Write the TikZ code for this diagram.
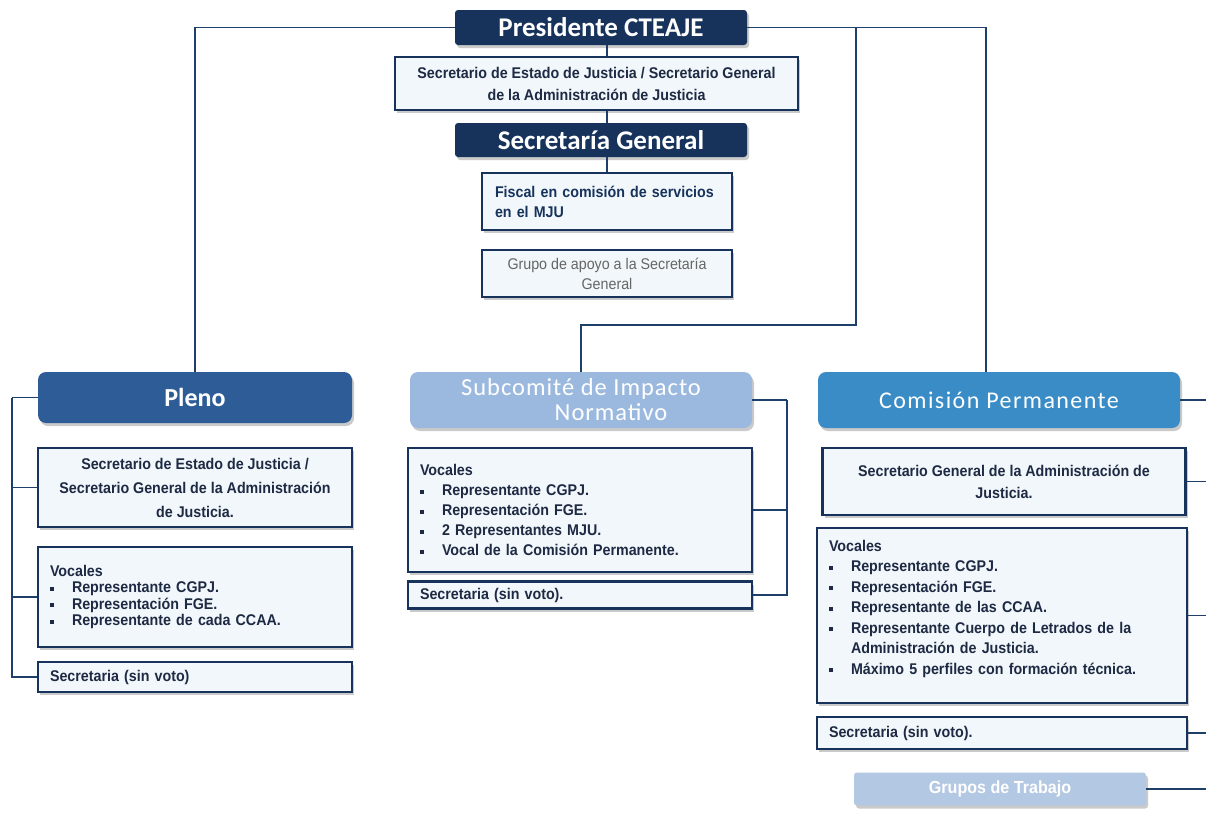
\documentclass[tikz,border=0pt]{standalone}
\usepackage{fontspec}
\usepackage{xcolor}
\usepackage{tikz}
\usetikzlibrary{calc, shadows}
\setmainfont[FakeStretch=0.92]{Liberation Sans}
\newfontfamily\headfont{Carlito}

\definecolor{navy}{HTML}{17335C}
\definecolor{linkcol}{HTML}{1F3F6B}
\definecolor{plenocol}{HTML}{2E5C97}
\definecolor{subccol}{HTML}{9BB9DF}
\definecolor{comiscol}{HTML}{3A8CC6}
\definecolor{grupocol}{HTML}{B3C8E2}
\definecolor{boxfill}{HTML}{F1F7FA}
\definecolor{textcol}{HTML}{1E2A44}

\newcommand\itm[1]{\par\noindent\makebox[22pt][l]{\rule[2pt]{3.8pt}{3.8pt}}#1}

\tikzset{
	link/.style={draw=linkcol, line width=1.8pt},
	boxshadow/.style={drop shadow={shadow xshift=2pt, shadow yshift=-3pt, opacity=0.35, fill=black!60}},
	headbox/.style={fill=navy, rounded corners=3pt, text=white, boxshadow, inner sep=0pt,
		font=\headfont\bfseries\fontsize{27}{30}\selectfont},
	unitbox/.style={rounded corners=8pt, text=white, boxshadow, inner sep=0pt, align=center},
	whitebox/.style={draw=navy, line width=2.5pt, fill=boxfill, boxshadow, inner xsep=12pt, inner ysep=0pt,
		text=textcol, font=\bfseries\fontsize{15.5}{22}\selectfont},
}

\begin{document}
\begin{tikzpicture}[x=1pt, y=-1pt]
	\useasboundingbox (0,0) rectangle (1206,815);
	\coordinate (lrail) at (12,0);
	\coordinate (srail) at (787,0);
	\coordinate (rrail) at (1206,0);
	\coordinate (bend) at (856,325);

	\begin{scope}
		\node[headbox, minimum width=292pt, minimum height=35pt] (pres) at (601,27.5) {Presidente CTEAJE};
		\node[whitebox, minimum width=403pt, minimum height=53pt, align=center] (sej) at (596.5,83.5)
			{Secretario de Estado de Justicia / Secretario General\\de la Administración de Justicia};
		\node[headbox, minimum width=292pt, minimum height=34pt] (secgen) at (601,140) {Secretaría General};
		\node[whitebox, minimum width=250pt, minimum height=57pt, text width=224pt, align=left,
			text=navy, font=\bfseries\fontsize{15.5}{20}\selectfont] (fiscal) at (607,201.5)
			{Fiscal en comisión de servicios\\en el MJU};
		\node[whitebox, minimum width=250pt, minimum height=47pt, align=center, text=black!60,
			font=\fontsize{15.5}{20}\selectfont] (apoyo) at (607,273.5)
			{Grupo de apoyo a la Secretaría\\General};
	\end{scope}

	\begin{scope}
		\node[unitbox, fill=plenocol, minimum width=314pt, minimum height=51pt,
			font=\headfont\bfseries\fontsize{26}{28}\selectfont] (pleno) at (195,397.5) {Pleno};
		\node[whitebox, minimum width=314pt, minimum height=79pt, align=center,
			font=\bfseries\fontsize{15.5}{24}\selectfont] (psej) at (195,487.5)
			{Secretario de Estado de Justicia /\\Secretario General de la Administración\\de Justicia.};
		\node[whitebox, minimum width=314pt, minimum height=100pt, text width=290pt, align=left,
			font=\bfseries\fontsize{15.5}{16.5}\selectfont] (pvoc) at (195,597)
			{Vocales
			\itm{Representante CGPJ.}
			\itm{Representación FGE.}
			\itm{Representante de cada CCAA.}};
		\node[whitebox, minimum width=314pt, minimum height=30pt, text width=290pt, align=left] (psecr) at (195,677)
			{Secretaria (sin voto)};
	\end{scope}

	\begin{scope}
		\node[unitbox, fill=subccol, minimum width=342pt, minimum height=56pt,
			font=\headfont\addfontfeatures{LetterSpace=4}\fontsize{24.5}{25}\selectfont] (subc) at (581,400)
			{Subcomité de Impacto\\\hspace*{60pt}Normativo};
		\node[whitebox, minimum width=344pt, minimum height=124pt, text width=320pt, align=left,
			font=\bfseries\fontsize{15.5}{20}\selectfont] (svoc) at (580,510)
			{Vocales
			\itm{Representante CGPJ.}
			\itm{Representación FGE.}
			\itm{2 Representantes MJU.}
			\itm{Vocal de la Comisión Permanente.}};
		\node[whitebox, minimum width=344pt, minimum height=27pt, text width=320pt, align=left] (ssecr) at (580,595)
			{Secretaria (sin voto).};
	\end{scope}

	\begin{scope}
		\node[unitbox, fill=comiscol, minimum width=362pt, minimum height=56pt,
			font=\headfont\addfontfeatures{LetterSpace=6}\fontsize{24}{25}\selectfont] (comis) at (999,400)
			{Comisión Permanente};
		\node[whitebox, minimum width=363pt, minimum height=67pt, align=center] (csg) at (1004,481.5)
			{Secretario General de la Administración de\\Justicia.};
		\node[whitebox, minimum width=370pt, minimum height=175pt, text width=346pt, align=left,
			font=\bfseries\fontsize{15.5}{20.5}\selectfont] (cvoc) at (1002,615.5)
			{Vocales
			\itm{Representante CGPJ.}
			\itm{Representación FGE.}
			\itm{Representante de las CCAA.}
			\itm{Representante Cuerpo de Letrados de la}
			\par\noindent\hspace*{22pt}Administración de Justicia.
			\itm{Máximo 5 perfiles con formación técnica.}\par\vspace*{14pt}};
		\node[whitebox, minimum width=370pt, minimum height=32pt, text width=346pt, align=left] (csecr) at (1002,733)
			{Secretaria (sin voto).};
		\node[unitbox, fill=grupocol, rounded corners=3pt, minimum width=292pt, minimum height=33pt,
			font=\bfseries\fontsize{17.5}{19}\selectfont] (grupos) at (1000,789) {Grupos de Trabajo};
	\end{scope}

	\begin{scope}[link]
		\draw (pres.west) -| (pleno.north);
		\draw (pres.east) -| ([xshift=-13pt]comis.north);
		\draw (pres.east) -| (bend) -| (subc.north);
		\draw ([xshift=6pt]pres.south) -- ([xshift=6pt]pres.south |- sej.north);
		\draw ([xshift=6pt]secgen.north |- sej.south) -- ([xshift=6pt]secgen.north);
		\draw ([xshift=6pt]secgen.south) -- (fiscal.north);

		\draw (pleno.west) -- (pleno.west -| lrail);
		\foreach \n in {psej,pvoc,psecr}
		{
			\draw (pleno.west -| lrail) |- (\n.west);
		}

		\draw (subc.east) -- (subc.east -| srail);
		\foreach \n in {svoc,ssecr}
		{
			\draw (subc.east -| srail) |- (\n.east);
		}

		\foreach \n in {comis,csg,cvoc,csecr,grupos}
		{
			\draw (\n.east) -- (\n.east -| rrail);
		}
	\end{scope}
\end{tikzpicture}
\end{document}
